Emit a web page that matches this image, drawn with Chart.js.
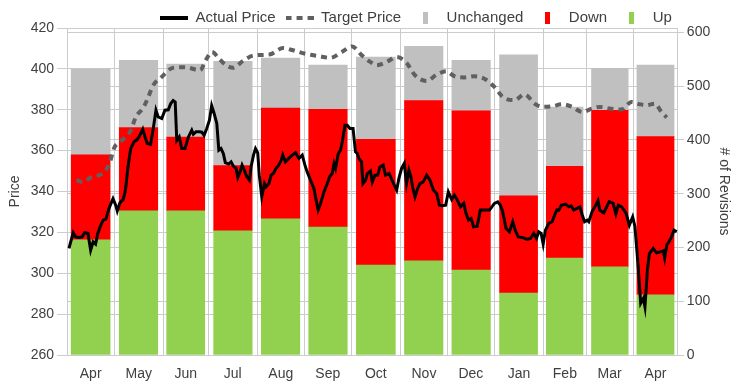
<!DOCTYPE html>
<html>
<head>
<meta charset="utf-8">
<script src="https://cdn.jsdelivr.net/npm/chart.js@4.4.1/dist/chart.umd.min.js"></script>
<style>
  html, body { margin: 0; padding: 0; background: #fff; }
</style>
</head>
<body>
<canvas id="chart" width="747" height="385"></canvas>
<script>
// months shown on the x axis and their length in trading days
const monthLabels = ['Apr', 'May', 'Jun', 'Jul', 'Aug', 'Sep', 'Oct', 'Nov', 'Dec', 'Jan', 'Feb', 'Mar', 'Apr'];
const monthDays = [21, 22, 20, 22, 21, 21, 22, 21, 21, 22, 19, 21, 20];

// estimate revisions per month
const upRevisions = [214, 268, 268, 231, 253, 238, 167, 175, 158, 115, 180, 164, 112];
const downRevisions = [158, 155, 137, 121, 206, 219, 234, 298, 296, 181, 171, 291, 294];
const unchangedRevisions = [160, 125, 136, 194, 93, 82, 153, 101, 94, 262, 110, 78, 133];

const priceTicks = [260, 280, 300, 320, 340, 360, 380, 400, 420];
const revisionTicks = [0, 100, 200, 300, 400, 500, 600];

// daily close (x = trading day)
const actualDay = [0.8, 2.7, 3.8, 5.2, 6.7, 7.8, 9.3, 10.5, 11.6, 12.7,
  13.7, 15.0, 16.1, 17.3, 18.7, 20.5, 21.7, 22.4, 23.6, 25.1,
  26.1, 27.2, 28.4, 29.9, 31.3, 32.5, 33.8, 34.8, 35.8, 37.3,
  38.5, 39.7, 40.7, 42.3, 43.7, 45.2, 46.3, 47.4, 48.3, 49.0,
  50.1, 51.2, 52.7, 54.2, 55.7, 56.4, 57.6, 59.1, 60.2, 61.2,
  62.4, 63.6, 64.6, 65.7, 66.9, 67.8, 68.8, 69.8, 70.7, 72.2,
  73.3, 74.3, 75.5, 76.3, 77.3, 78.2, 79.2, 80.3, 81.5, 82.2,
  83.3, 84.2, 85.2, 85.9, 87.0, 88.2, 88.9, 90.2, 91.2, 92.2,
  93.4, 94.6, 95.7, 96.4, 97.6, 99.1, 100.6, 102.1, 103.6, 105.1,
  106.3, 107.3, 108.8, 110.3, 111.0, 112.2, 113.3, 114.8, 116.3, 117.3,
  118.5, 119.3, 120.0, 121.2, 122.2, 123.0, 124.2, 125.2, 126.4, 127.8,
  128.9, 129.7, 130.4, 131.6, 132.2, 133.4, 134.2, 135.6, 136.4, 137.6,
  138.8, 139.8, 141.3, 142.3, 143.9, 145.3, 146.6, 147.3, 148.3, 149.5,
  150.7, 151.7, 152.8, 153.7, 154.4, 155.5, 156.7, 157.7, 159.2, 160.7,
  162.2, 163.7, 165.2, 166.4, 167.7, 169.2, 170.4, 171.9, 173.1, 174.3,
  175.8, 177.3, 178.3, 179.4, 180.6, 181.7, 183.3, 184.7, 186.2, 188.8,
  191.0, 192.5, 193.7, 194.7, 196.2, 197.7, 199.2, 200.3, 201.7, 204.1,
  205.6, 207.1, 208.6, 209.8, 210.8, 211.9, 212.8, 213.8, 215.3, 216.8,
  217.9, 218.9, 219.8, 220.9, 222.8, 224.3, 225.3, 226.5, 228.0, 229.2,
  230.3, 231.3, 232.5, 233.2, 234.7, 236.2, 237.3, 238.1, 239.9, 242.3,
  244.1, 245.3, 246.4, 247.9, 249.8, 251.3, 252.8, 253.8, 255.0, 256.4,
  257.6, 258.3, 259.4, 260.3, 262.0, 263.5, 265.3, 266.5, 267.1, 268.1,
  268.8, 270.2, 271.3, 272.5];
const actualPrice = [312.2, 319.8, 317.8, 317.5, 317.8, 319.8, 319.5, 311.3, 315.4, 314.3,
  319.5, 323.5, 326.0, 326.5, 331.7, 336.5, 333.3, 330.5, 334.6, 336.1,
  341.0, 352.0, 361.0, 364.3, 365.4, 367.5, 370.5, 366.7, 363.5, 363.1,
  370.8, 379.8, 376.5, 375.7, 379.8, 380.0, 383.0, 384.5, 383.8, 365.0,
  366.7, 361.0, 361.0, 366.7, 370.0, 368.0, 369.2, 369.2, 369.0, 367.5,
  370.8, 374.9, 382.0, 378.2, 373.3, 360.2, 361.0, 358.6, 354.1, 353.4,
  354.5, 352.4, 351.3, 346.9, 349.6, 352.9, 350.4, 347.2, 345.5, 352.0,
  357.8, 361.0, 358.9, 348.0, 337.4, 343.9, 342.3, 343.9, 348.0, 348.8,
  351.3, 352.9, 355.3, 357.8, 354.5, 356.2, 357.8, 359.0, 356.2, 357.8,
  352.9, 349.6, 345.5, 341.5, 337.4, 330.9, 334.2, 339.8, 343.9, 347.2,
  348.8, 353.7, 351.3, 358.6, 360.2, 364.3, 372.4, 372.4, 370.8, 370.8,
  359.4, 358.6, 356.2, 354.5, 343.9, 345.5, 348.8, 350.0, 344.7, 348.0,
  348.0, 352.0, 352.9, 348.0, 348.8, 345.5, 342.3, 340.7, 346.4, 351.3,
  353.7, 343.9, 350.4, 347.2, 342.3, 337.4, 341.5, 343.9, 344.7, 348.0,
  345.5, 340.7, 339.0, 333.3, 333.0, 333.3, 339.8, 336.1, 338.2, 336.1,
  332.5, 334.2, 329.3, 326.0, 326.8, 322.7, 323.0, 330.9, 330.9, 330.9,
  334.2, 334.9, 333.3, 330.1, 321.9, 320.3, 325.2, 321.1, 317.8, 317.3,
  316.6, 317.0, 319.5, 317.0, 320.3, 319.5, 314.3, 321.1, 324.4, 325.2,
  328.4, 331.0, 330.9, 333.3, 333.8, 332.5, 333.0, 330.9, 331.8, 332.5,
  328.4, 325.2, 326.0, 325.2, 330.3, 333.0, 335.5, 330.9, 329.5, 335.0,
  334.2, 329.0, 333.3, 332.5, 329.5, 323.5, 327.6, 323.0, 307.0, 285.3,
  287.7, 283.6, 301.6, 309.7, 312.1, 310.0, 310.5, 311.0, 307.5, 314.0,
  315.0, 317.8, 321.1, 320.3];

// consensus target price
const targetDay = [4.2, 6.6, 11.1, 16.4, 18.9, 21.1, 24.0, 28.5, 30.7, 33.9,
  35.7, 38.5, 41.9, 47.3, 52.7, 59.4, 62.1, 64.8, 67.9, 71.0,
  74.2, 78.6, 83.6, 90.3, 96.6, 101.0, 106.4, 112.2, 117.6, 122.8,
  127.4, 131.8, 135.5, 138.3, 142.8, 147.3, 151.7, 155.5, 160.7, 165.2,
  169.5, 173.1, 177.6, 182.0, 186.5, 191.0, 194.7, 200.0, 204.4, 209.4,
  212.4, 216.8, 221.3, 225.8, 230.3, 234.7, 238.1, 242.6, 247.8, 252.3,
  256.0, 259.0, 262.7, 265.7, 268.0];
const targetPrice = [345.7, 344.7, 347.2, 349.2, 353.7, 361.5, 364.5, 370.0, 376.5, 380.8,
  384.7, 392.0, 395.7, 400.5, 400.8, 399.3, 404.5, 408.3, 405.0, 401.8,
  400.5, 403.9, 406.6, 407.0, 410.2, 409.1, 407.4, 406.3, 405.4, 408.3,
  411.0, 406.6, 403.4, 401.8, 403.4, 405.8, 402.9, 396.9, 394.1, 397.2,
  398.8, 396.4, 395.8, 396.4, 395.2, 391.2, 386.3, 384.7, 387.5, 382.7,
  381.4, 381.7, 382.7, 381.4, 378.9, 380.6, 381.4, 380.6, 380.1, 383.8,
  382.7, 382.2, 383.0, 378.9, 376.2];

const GRID = '#cccccc';
const TEXT = '#404040';
Chart.defaults.font.family = "'Liberation Sans', Arial, sans-serif";
Chart.defaults.color = TEXT;

// month start / centre positions on the trading-day axis
const monthStart = [];
let acc = 0;
monthDays.forEach(d => { monthStart.push(acc); acc += d; });
const totalDays = acc;
const monthMid = monthStart.map((s, i) => s + monthDays[i] / 2);
const xTicks = [];
monthStart.forEach((s, i) => { xTicks.push(s, monthMid[i]); });
xTicks.push(totalDays);

const barPoints = vals => vals.map((v, i) => ({ x: monthMid[i], y: v }));
const linePoints = (xs, ys) => xs.map((x, i) => ({ x: x, y: ys[i] }));

function legendIcon(w, h, color, dash) {
    const c = document.createElement('canvas');
    c.width = w; c.height = h;
    const g = c.getContext('2d');
    g.fillStyle = color;
    if (dash) {
        for (let x = 0; x < w; x += dash[0] + dash[1]) g.fillRect(x, 0, Math.min(dash[0], w - x), h);
    } else {
        g.fillRect(0, 0, w, h);
    }
    return c;
}

const legendItems = [
    { text: 'Actual Price', icon: legendIcon(28, 4, '#000000') },
    { text: 'Target Price', icon: legendIcon(28, 4, '#606060', [6, 5]) },
    { text: 'Unchanged', icon: legendIcon(5, 12, '#c0c0c0') },
    { text: 'Down', icon: legendIcon(5, 12, '#ff0000') },
    { text: 'Up', icon: legendIcon(5, 12, '#92d050') }
];

// legend: a bit less height, and the row ends over the plot's right edge
const legendTweak = {
    id: 'legendTweak',
    beforeLayout(chart) {
        const lg = chart.legend;
        if (lg && !lg._tweaked) {
            const fit = lg.fit;
            lg.fit = function () { fit.call(this); this.height -= 7; };
            lg._tweaked = true;
        }
    },
    beforeDraw(chart) {
        chart.legend.right = chart.chartArea.right + 4;
    }
};

const barCommon = {
    yAxisID: 'y2',
    stack: 'rev',
    order: 2,
    barThickness: 'flex',
    categoryPercentage: 0.81,
    barPercentage: 1,
    borderWidth: 0
};

new Chart(document.getElementById('chart'), {
    type: 'bar',
    data: {
        datasets: [
            {
                type: 'line', label: 'Actual Price', yAxisID: 'y', order: 0,
                data: linePoints(actualDay, actualPrice),
                borderColor: '#000000', borderWidth: 3, pointRadius: 0, tension: 0
            },
            {
                type: 'line', label: 'Target Price', yAxisID: 'y', order: 1,
                data: linePoints(targetDay, targetPrice),
                borderColor: '#606060', borderWidth: 4, borderDash: [6, 5],
                pointRadius: 0, cubicInterpolationMode: 'monotone'
            },
            Object.assign({ label: 'Up', data: barPoints(upRevisions), backgroundColor: '#92d050' }, barCommon),
            Object.assign({ label: 'Down', data: barPoints(downRevisions), backgroundColor: '#ff0000' }, barCommon),
            Object.assign({ label: 'Unchanged', data: barPoints(unchangedRevisions), backgroundColor: '#c0c0c0' }, barCommon)
        ]
    },
    options: {
        responsive: false,
        animation: false,
        layout: { padding: { left: 3, right: 11, top: 0, bottom: 0 } },
        plugins: {
            tooltip: { enabled: false },
            legend: {
                position: 'top',
                align: 'end',
                labels: {
                    usePointStyle: true,
                    pointStyleWidth: 28,
                    padding: 10,
                    color: TEXT,
                    font: { size: 15 },
                    generateLabels: () => legendItems.map(it => ({
                        text: it.text,
                        pointStyle: it.icon,
                        fillStyle: 'transparent',
                        strokeStyle: 'transparent',
                        lineWidth: 0,
                        fontColor: TEXT,
                        hidden: false
                    }))
                }
            }
        },
        scales: {
            x: {
                type: 'linear',
                min: 0,
                max: totalDays,
                offset: false,
                afterBuildTicks: axis => { axis.ticks = xTicks.map(v => ({ value: v })); },
                grid: {
                    offset: false,
                    tickLength: 8,
                    tickColor: 'rgba(0,0,0,0)',
                    color: ctx => (ctx.index % 2 === 0 ? GRID : 'rgba(0,0,0,0)')
                },
                border: { display: false },
                ticks: {
                    autoSkip: false,
                    maxRotation: 0,
                    padding: 2.6,
                    font: { size: 14 },
                    callback: (v, i) => (i % 2 === 1 ? monthLabels[(i - 1) / 2] : '')
                }
            },
            y: {
                position: 'left',
                min: 260,
                max: 420,
                afterBuildTicks: axis => { axis.ticks = priceTicks.map(v => ({ value: v })); },
                grid: { color: GRID, tickLength: 10 },
                border: { color: GRID },
                ticks: { padding: 3, font: { size: 14 } },
                title: { display: true, text: 'Price', font: { size: 14 } }
            },
            y2: {
                position: 'right',
                min: 0,
                max: 608,
                stacked: true,
                afterBuildTicks: axis => { axis.ticks = revisionTicks.map(v => ({ value: v })); },
                grid: { color: GRID, tickLength: 6 },
                border: { color: GRID },
                ticks: { padding: 3, font: { size: 14 } },
                title: { display: true, text: '# of Revisions', font: { size: 14 }, padding: { top: 4, bottom: 2 } }
            }
        }
    },
    plugins: [legendTweak]
});
</script>
</body>
</html>
